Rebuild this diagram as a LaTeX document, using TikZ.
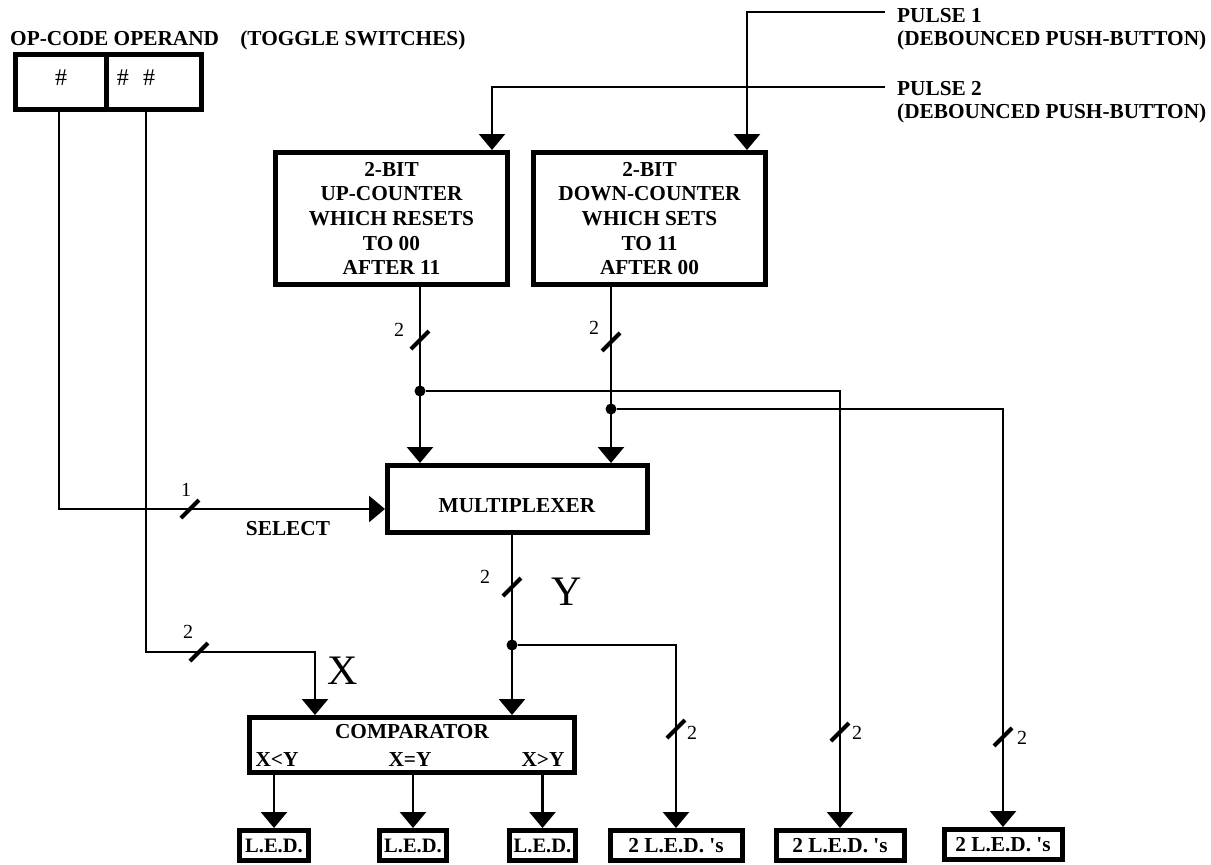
\documentclass[tikz,border=0pt]{standalone}
\usepackage{fontspec}
\setmainfont{Liberation Serif}
\usetikzlibrary{arrows.meta}
\newcommand\dgB{\fontsize{21.3}{24.7}\selectfont\bfseries}
\newcommand\dgLED{\fontsize{20.5}{22}\selectfont\bfseries}
\newcommand\dgR{\fontsize{20}{22}\selectfont}
\newcommand\dgH{\fontsize{24}{26}\selectfont}
\newcommand\dgL{\fontsize{42}{44}\selectfont}
\newcommand\busmark[1]{\draw[slashmark] ([shift={(-9,9)}]#1) -- ([shift={(9,-9)}]#1);}
\begin{document}
\begin{tikzpicture}[x=1pt,y=-1pt,
  arr/.style={line width=2.5pt,-{Triangle[length=16pt,width=26pt]}},
  blk/.style={draw,line width=5pt,inner sep=0pt,align=center,font=\dgB},
  txt/.style={inner sep=0pt,font=\dgB},
  num/.style={inner sep=0pt,font=\dgR},
  big/.style={inner sep=0pt,font=\dgL},
  dot/.style={circle,fill,inner sep=0pt,minimum size=11pt},
  slashmark/.style={line width=4pt}]
\useasboundingbox (0,0) rectangle (1211,865);

% toggle switches
\node[txt,anchor=base west] (title) at (10,45) {OP-CODE OPERAND\hspace{1em}(TOGGLE SWITCHES)};
\node[blk,minimum width=90.5pt,minimum height=55pt] (opc) at (60.75,82) {};
\node[blk,minimum width=95.5pt,minimum height=55pt] (opr) at (153.75,82) {};
\node[inner sep=0pt,font=\dgH] (opct) at (61,78) {\#};
\node[inner sep=0pt,font=\dgH] (oprt) at (136,78) {\#\hspace{0.6em}\#};

% pulse labels
\node[txt,anchor=base west] (pl1) at (897,22) {PULSE 1};
\node[txt,anchor=base west] (pl1b) at (897,45) {(DEBOUNCED PUSH-BUTTON)};
\node[txt,anchor=base west] (pl2) at (897,95) {PULSE 2};
\node[txt,anchor=base west] (pl2b) at (897,118) {(DEBOUNCED PUSH-BUTTON)};

% counters
\node[blk,minimum width=232pt,minimum height=132pt] (up) at (391.5,218.5)
  {2-BIT\\UP-COUNTER\\WHICH RESETS\\TO 00\\AFTER 11};
\node[blk,minimum width=232pt,minimum height=132pt] (dn) at (649.5,218.5)
  {2-BIT\\DOWN-COUNTER\\WHICH SETS\\TO 11\\AFTER 00};

% multiplexer
\node[blk,minimum width=260pt,minimum height=67pt] (mux) at (517.5,499) {};
\node[txt] (muxt) at (517,506) {MULTIPLEXER};
\node[txt] (sel) at (288,529) {SELECT};

% comparator
\node[blk,minimum width=325pt,minimum height=55pt] (cmp) at (412,745) {};
\node[txt] (cmpt) at (412,732) {COMPARATOR};
\node[txt] (clt) at (277,760) {X<Y};
\node[txt] (ceq) at (410,760) {X=Y};
\node[txt] (cgt) at (543,760) {X>Y};

% LEDs
\node[blk,font=\dgLED,minimum width=69pt,minimum height=30pt] (la) at (274,845.5) {L.E.D.};
\node[blk,font=\dgLED,minimum width=67pt,minimum height=30pt] (lb) at (413,845.5) {L.E.D.};
\node[blk,font=\dgLED,minimum width=66pt,minimum height=30pt] (lc) at (542.5,845.5) {L.E.D.};
\node[blk,minimum width=132pt,minimum height=30pt] (led4) at (676,845.5) {2 L.E.D. \textquotesingle s};
\node[blk,minimum width=128pt,minimum height=30pt] (led5) at (840,845.5) {2 L.E.D. \textquotesingle s};
\node[blk,minimum width=118pt,minimum height=30pt] (led6) at (1003,844.5) {2 L.E.D. \textquotesingle s};

% big labels
\node[big] (xl) at (343,671) {X};
\node[big] (yl) at (567,592) {Y};

% connectors
\coordinate (p1) at (885,12);
\coordinate (p2) at (885,87);
\draw[arr] (p1) -| ([xshift=97.5pt]dn.north);
\draw[arr] (p2) -| ([xshift=100.5pt]up.north);

\draw[arr] ([xshift=-1.75pt]opc.south) |- ([yshift=-10pt]mux.west);
\coordinate (xc) at (315,652);
\draw[arr] ([xshift=-7.75pt]opr.south) |- (xc) -- (xc |- cmp.north);

\coordinate (uo) at ([xshift=28.5pt]up.south);
\coordinate (do) at ([xshift=-38.5pt]dn.south);
\draw[arr] (uo) -- (uo |- mux.north);
\draw[arr] (do) -- (do |- mux.north);

\node[dot] (d1) at (420,391) {};
\node[dot] (d2) at (611,409) {};
\draw[arr] (d1) -| (led5.north);
\draw[arr] (d2) -| (led6.north);

\coordinate (mo) at ([xshift=-5.5pt]mux.south);
\draw[arr] (mo) -- (mo |- cmp.north);
\node[dot] (d3) at (512,645) {};
\draw[arr] (d3) -| (led4.north);

\draw[arr] (cmp.south -| la.north) -- (la.north);
\draw[arr] (cmp.south -| lb.north) -- (lb.north);
\draw[arr] (cmp.south -| lc.north) -- (lc.north);

% bus width marks
\coordinate (s1) at (420,340);
\coordinate (s2) at (611,342);
\coordinate (s3) at (190,509);
\coordinate (s4) at (199,652);
\coordinate (s5) at (512,587);
\coordinate (s6) at (676,729);
\coordinate (s7) at (840,732);
\coordinate (s8) at (1003,737);
\busmark{s1}\busmark{s2}\busmark{s3}\busmark{s4}
\busmark{s5}\busmark{s6}\busmark{s7}\busmark{s8}
\node[num] (n1) at (399,330) {2};
\node[num] (n2) at (594,328) {2};
\node[num] (n3) at (186,490) {1};
\node[num] (n4) at (188,632) {2};
\node[num] (n5) at (485,577) {2};
\node[num] (n6) at (692,733) {2};
\node[num] (n7) at (857,733) {2};
\node[num] (n8) at (1022,738) {2};
\end{tikzpicture}
\end{document}
